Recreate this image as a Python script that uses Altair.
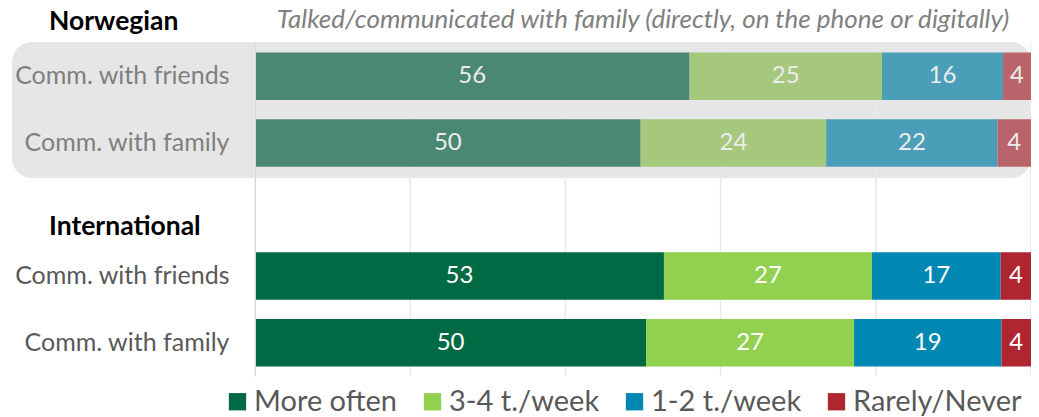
import altair as alt
import pandas as pd

groups = ["Norwegian", "International"]
rows = ["Comm. with friends", "Comm. with family"]
cats = ["More often", "3-4 t./week", "1-2 t./week", "Rarely/Never"]
nor_friends = [56.0, 24.8, 15.6, 3.6]
nor_family = [49.7, 23.9, 22.1, 4.3]
int_friends = [52.7, 26.8, 16.6, 3.9]
int_family = [50.4, 26.8, 19.0, 3.8]
int_colors = ["#006A45", "#92D050", "#0088B2", "#AF2530"]
nor_colors = ["#4A8875", "#A5C87D", "#4B9EB7", "#B8646A"]
grid_ticks = [0, 20, 40, 60, 80, 100]
title = "Talked/communicated with family (directly, on the phone or digitally)"

records = []
for g, series in [(groups[0], [nor_friends, nor_family]), (groups[1], [int_friends, int_family])]:
    for r, vals in zip(rows, series):
        for i, (c, v) in enumerate(zip(cats, vals)):
            records.append({"group": g, "row": g + "|" + r, "cat": c, "ord": i, "value": v})
df = pd.DataFrame(records)

ydom = [groups[0] + "|" + rows[0], groups[0] + "|" + rows[1], "gap",
        groups[1] + "|" + rows[0], groups[1] + "|" + rows[1]]

FONT = "Lato"

yenc = alt.Y(
    "row:N",
    scale=alt.Scale(domain=ydom, paddingInner=0.287, paddingOuter=0.1435),
    axis=alt.Axis(
        title=None, ticks=False,
        labelExpr="datum.value == 'gap' ? '' : split(datum.value, '|')[1]",
        labelColor=alt.ExprRef("indexof(datum.value, 'Norwegian') == 0 ? '#7f7f7f' : '#595959'"),
        labelFont=FONT, labelFontSize=25, labelPadding=26, labelLimit=400,
        domainColor="#d9d9d9", domainWidth=1, zindex=1, grid=False,
    ),
)
xscale = alt.Scale(domain=[0, 100], nice=False)
xenc = alt.X("x0:Q", scale=xscale, axis=None)

base = alt.Chart(df).transform_stack(
    stack="value", groupby=["row"], sort=[alt.SortField("ord")], as_=["x0", "x1"]
).transform_calculate(mid="(datum.x0 + datum.x1) / 2")

panel = alt.Chart(pd.DataFrame({"a": [0]})).mark_rect(
    color="#e6e6e6", cornerRadius=20
).encode(x=alt.value(-243), x2=alt.value(776), y=alt.value(-1), y2=alt.value(135))

grid = alt.Chart(pd.DataFrame({"t": grid_ticks})).mark_rule(
    color="#e9e9e9", strokeWidth=1.5
).encode(x=alt.X("t:Q", scale=xscale, axis=None))

bars_n = base.transform_filter(alt.datum.group == groups[0]).mark_bar().encode(
    y=yenc, x=xenc, x2="x1:Q",
    color=alt.Color("cat:N", scale=alt.Scale(domain=cats, range=nor_colors), legend=None),
)
bars_i = base.transform_filter(alt.datum.group == groups[1]).mark_bar().encode(
    y=yenc, x=xenc, x2="x1:Q",
    color=alt.Color(
        "cat:N", scale=alt.Scale(domain=cats, range=int_colors),
        legend=alt.Legend(
            title=None, orient="none", legendX=-32, legendY=344, direction="horizontal",
            symbolType="square", symbolSize=300, symbolStrokeWidth=0, symbolOpacity=1,
            labelFont=FONT, labelFontSize=29, labelColor="#595959", labelOffset=2,
            columnPadding=20, labelLimit=400, padding=0,
        ),
    ),
)
labels = base.mark_text(font=FONT, fontSize=24, baseline="middle", align="center").encode(
    y=yenc,
    x=alt.X("mid:Q", scale=xscale, axis=None),
    text=alt.Text("value:Q", format=".0f"),
    color=alt.condition(alt.datum.group == groups[0], alt.value("#ececec"), alt.value("#ffffff")),
)

glabel_n = alt.Chart(pd.DataFrame({"g": [groups[0]]})).mark_text(
    align="left", baseline="alphabetic", font=FONT, fontSize=26.5, fontWeight="bold", color="#000000"
).encode(text="g:N", x=alt.value(-206), y=alt.value(-13))
glabel_i = alt.Chart(pd.DataFrame({"g": [groups[1]]})).mark_text(
    align="left", baseline="alphabetic", font=FONT, fontSize=26.5, fontWeight="bold", color="#000000"
).encode(text="g:N", x=alt.value(-206), y=alt.value(192))

title_mark = alt.Chart(pd.DataFrame({"t": [title]})).mark_text(
    align="center", baseline="alphabetic", font=FONT, fontSize=26, fontStyle="italic", color="#808080"
).encode(text="t:N", x=alt.value(388), y=alt.value(-15))

chart = alt.layer(panel, grid, bars_n, bars_i, labels, glabel_n, glabel_i, title_mark).resolve_scale(
    color="independent"
).properties(
    width=776, height=333,
    padding={"left": 247, "top": 35, "right": 0, "bottom": 41},
    autosize=alt.AutoSizeParams(type="none"),
).configure_view(stroke=None)

chart.save("out.html", embed_options={"renderer": "svg", "actions": False})
